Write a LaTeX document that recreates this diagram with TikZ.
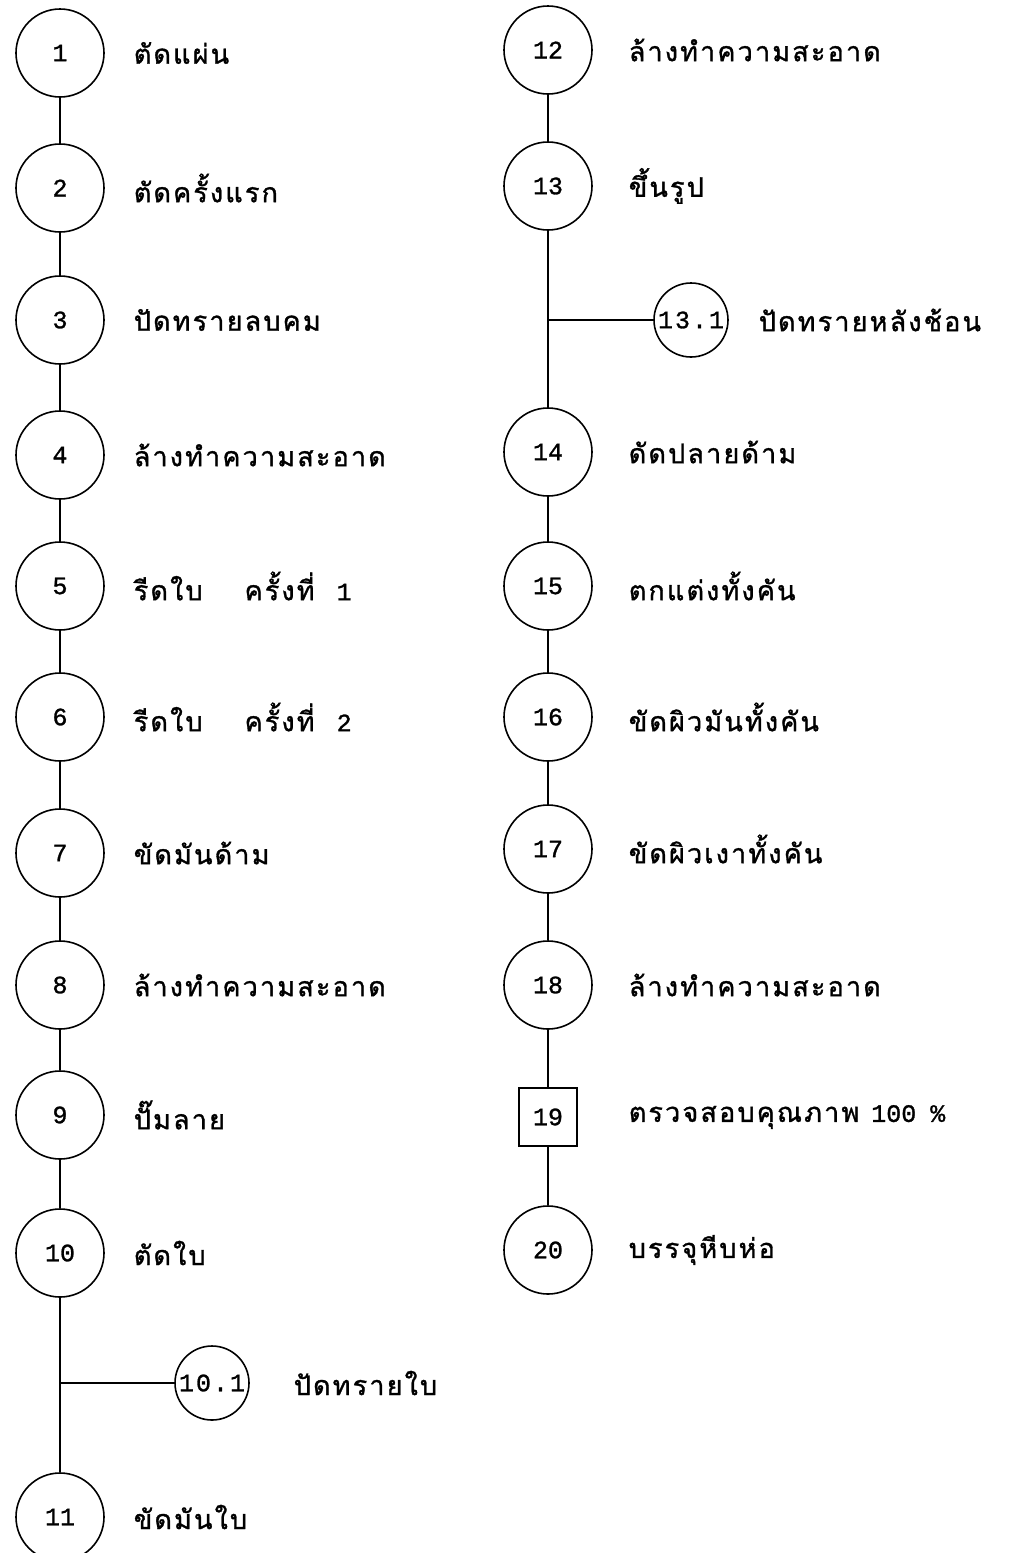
\documentclass[tikz,border=0pt]{standalone}
\usepackage{fontspec}
\newfontfamily\thaifont[Script=Thai,LetterSpace=8,FakeBold=1.2]{Loma}
\newfontfamily\numfont[FakeBold=1.2]{Liberation Mono}
\newfontfamily\subnumfont[LetterSpace=8,FakeBold=1.2]{Liberation Mono}
\begin{document}
\begin{tikzpicture}[x=1pt,y=-1pt,
  line width=1.6pt,
  step circle/.style={circle,draw,minimum size=88pt,inner sep=0pt,font=\numfont\fontsize{25}{25}\selectfont},
  sub circle/.style={circle,draw,minimum size=74pt,inner sep=0pt,font=\subnumfont\fontsize{25}{25}\selectfont},
  check box/.style={rectangle,draw,minimum size=58pt,inner sep=0pt,font=\numfont\fontsize{25}{25}\selectfont},
  label text/.style={anchor=west,inner sep=0pt,font=\thaifont\fontsize{27}{27}\selectfont},
  link/.style={line width=1.4pt}]
\newcommand{\dg}[1]{{\numfont\fontsize{25}{25}\selectfont #1}}
\useasboundingbox (0,0) rectangle (1027,1553);

% left column
\node[step circle] (s1) at (60,53) {1};
\node[step circle] (s2) at (60,188) {2};
\node[step circle] (s3) at (60,320) {3};
\node[step circle] (s4) at (60,455) {4};
\node[step circle] (s5) at (60,586) {5};
\node[step circle] (s6) at (60,717) {6};
\node[step circle] (s7) at (60,853) {7};
\node[step circle] (s8) at (60,985) {8};
\node[step circle] (s9) at (60,1115) {9};
\node[step circle] (s10) at (60,1253) {10};
\node[sub circle] (s10a) at (212,1383) {10.1};
\node[step circle] (s11) at (60,1517) {11};
\coordinate (j10) at (60,1383);

% right column
\node[step circle] (s12) at (548,50) {12};
\node[step circle] (s13) at (548,186) {13};
\node[sub circle] (s13a) at (691,320) {13.1};
\node[step circle] (s14) at (548,452) {14};
\node[step circle] (s15) at (548,586) {15};
\node[step circle] (s16) at (548,717) {16};
\node[step circle] (s17) at (548,849) {17};
\node[step circle] (s18) at (548,985) {18};
\node[check box] (s19) at (548,1117) {19};
\node[step circle] (s20) at (548,1250) {20};
\coordinate (j13) at (548,320);

% labels
\node[label text] (t1) at (133,53) {ตัดแผ่น};
\node[label text] (t2) at (133,188) {ตัดครั้งแรก};
\node[label text] (t3) at (133,320) {ปัดทรายลบคม};
\node[label text] (t4) at (133,455) {ล้างทำความสะอาด};
\node[label text] (t5) at (133,586) {รีดใบ\hspace{42pt}ครั้งที่\hspace{22pt}\dg{1}};
\node[label text] (t6) at (133,717) {รีดใบ\hspace{42pt}ครั้งที่\hspace{22pt}\dg{2}};
\node[label text] (t7) at (133,853) {ขัดมันด้าม};
\node[label text] (t8) at (133,985) {ล้างทำความสะอาด};
\node[label text] (t9) at (133,1115) {ปั๊มลาย};
\node[label text] (t10) at (133,1253) {ตัดใบ};
\node[label text] (t10a) at (293,1383) {ปัดทรายใบ};
\node[label text] (t11) at (133,1517) {ขัดมันใบ};
\node[label text] (t12) at (628,50) {ล้างทำความสะอาด};
\node[label text] (t13) at (628,186) {ขึ้นรูป};
\node[label text] (t13a) at (758,320) {ปัดทรายหลังช้อน};
\node[label text] (t14) at (628,452) {ดัดปลายด้าม};
\node[label text] (t15) at (628,586) {ตกแต่งทั้งคัน};
\node[label text] (t16) at (628,717) {ขัดผิวมันทั้งคัน};
\node[label text] (t17) at (628,849) {ขัดผิวเงาทั้งคัน};
\node[label text] (t18) at (628,985) {ล้างทำความสะอาด};
\node[label text] (t19) at (628,1117) {ตรวจสอบคุณภาพ\hspace{12pt}\dg{100\hspace{14pt}\%}};
\node[label text] (t20) at (628,1250) {บรรจุหีบห่อ};

% connectors
\foreach \a/\b in {s1/s2,s2/s3,s3/s4,s4/s5,s5/s6,s6/s7,s7/s8,s8/s9,s9/s10,s10/s11,
                   s12/s13,s13/s14,s14/s15,s15/s16,s16/s17,s17/s18,s18/s19,s19/s20}
  \draw[link] (\a.south) -- (\b.north);
\draw[link] (j10) -- (s10a.west);
\draw[link] (j13) -- (s13a.west);
\end{tikzpicture}
\end{document}
